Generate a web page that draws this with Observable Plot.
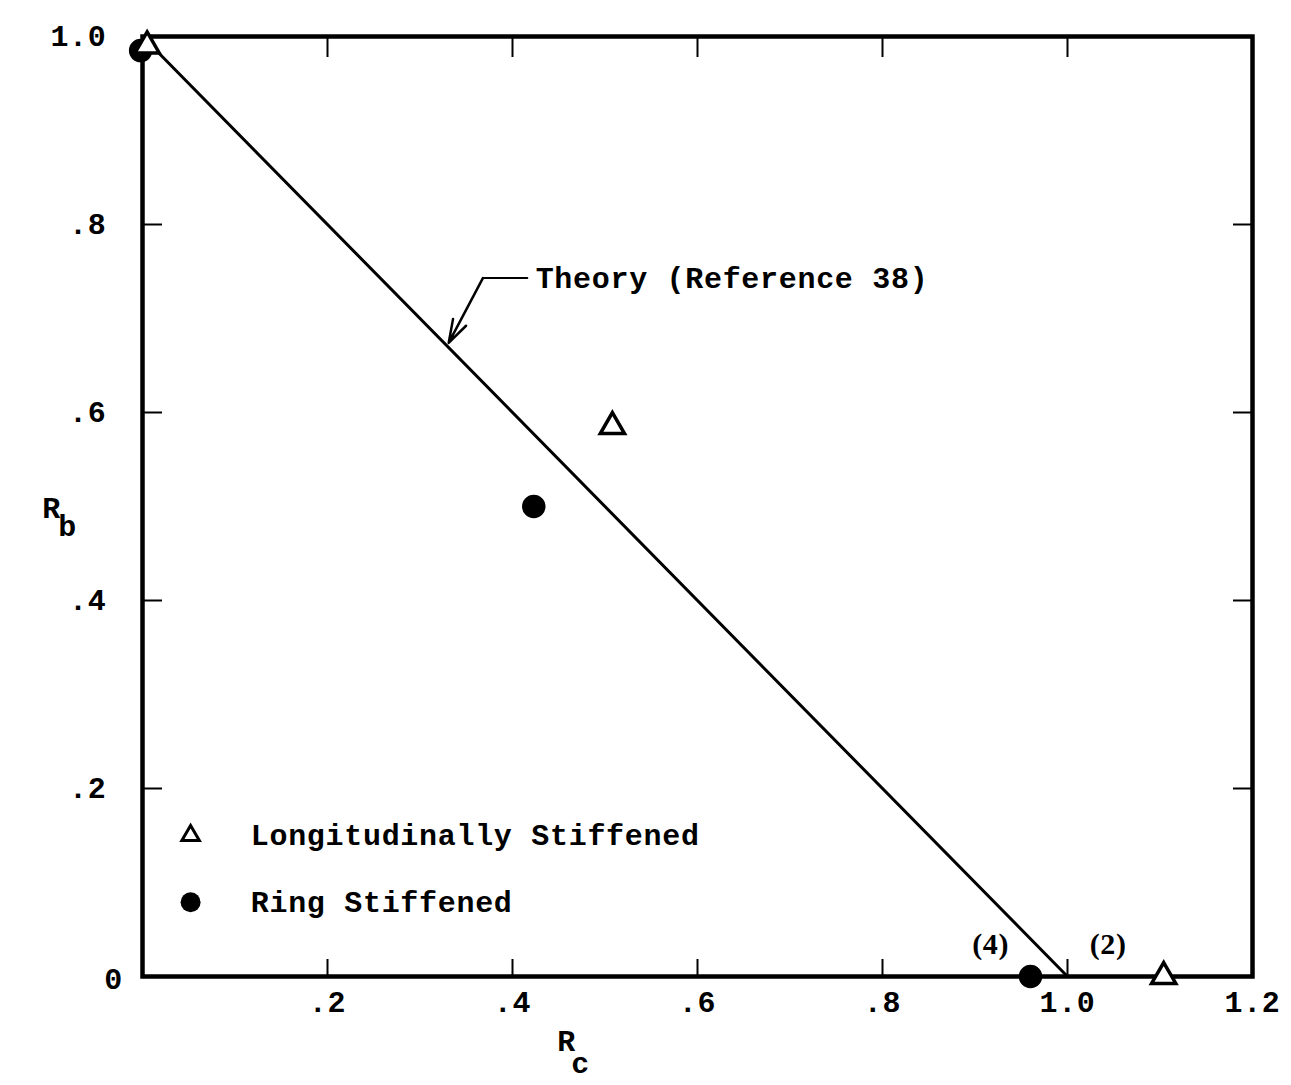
<!DOCTYPE html>
<html>
<head>
<meta charset="utf-8">
<script src="https://cdn.jsdelivr.net/npm/d3@7"></script>
<script src="https://cdn.jsdelivr.net/npm/@observablehq/plot@0.6"></script>
<style>
  html, body { margin: 0; padding: 0; background: #fff; }
  #chart { width: 1291px; height: 1085px; }
</style>
</head>
<body>
<div id="chart"></div>
<script>
// ---- data ----
const theoryRc = [0, 1.0];
const theoryRb = [1.0, 0];

// Longitudinally stiffened (open triangles)
const longRc = [0.005, 0.508, 1.104];
const longRb = [0.99, 0.585, 0.0];

// Ring stiffened (filled circles)
const ringRc = [-0.002, 0.423, 0.96];
const ringRb = [0.985, 0.50, 0.0];

// point annotations
const noteText = ["(4)", "(2)"];
const noteRc = [0.917, 1.044];
const noteRb = [0.016, 0.016];

// theory leader line: text start, elbow, arrow tip on the theory line
const leaderRc = [0.416, 0.368, 0.331];
const leaderRb = [0.743, 0.743, 0.674];
const theoryLabel = "Theory (Reference 38)";
const theoryLabelRc = 0.425;

// legend
const legendLabels = ["Longitudinally Stiffened", "Ring Stiffened"];
const legendSymbolRc = 0.052;
const legendTextRc = 0.117;
const legendRb = [0.150, 0.079];

// ticks
const xTickLabels = [0.2, 0.4, 0.6, 0.8, 1.0, 1.2];
const xTickMarks = [0.2, 0.4, 0.6, 0.8, 1.0];
const yTickLabels = [0.2, 0.4, 0.6, 0.8, 1.0];
const yTickMarks = [0.2, 0.4, 0.6, 0.8];
const originLabel = "0";
const fmt = d => d === 0 ? "0" : d >= 1 ? d.toFixed(1) : d.toFixed(1).slice(1);

// ---- tables ----
const theory = theoryRc.map((x, i) => ({x, y: theoryRb[i]}));
const longPts = longRc.map((x, i) => ({x, y: longRb[i]}));
const ringPts = ringRc.map((x, i) => ({x, y: ringRb[i]}));
const notes = noteText.map((t, i) => ({t, x: noteRc[i], y: noteRb[i]}));
const leader = leaderRc.map((x, i) => ({x, y: leaderRb[i]}));
const legend = legendLabels.map((t, i) => ({t, y: legendRb[i]}));

const font = "'Liberation Mono', 'Courier New', monospace";
const FS = 30;

const chart = Plot.plot({
  width: 1291,
  height: 1085,
  marginTop: 36,
  marginBottom: 109,
  marginLeft: 142,
  marginRight: 39,
  x: {domain: [0, 1.2]},
  y: {domain: [0, 1]},
  style: {fontFamily: font, fontWeight: "bold", fontSize: FS + "px", color: "#000", background: "#fff", overflow: "visible"},
  marks: [
    // axes: labels
    Plot.axisX(xTickLabels, {anchor: "bottom", tickSize: 0, tickPadding: 14, tickFormat: fmt, label: null, fontSize: FS}),
    Plot.axisY(yTickLabels, {anchor: "left", tickSize: 0, tickPadding: 36, tickFormat: fmt, label: null, fontSize: FS}),
    Plot.text([originLabel], {frameAnchor: "bottom-left", dx: -29, dy: 12, fontSize: FS, textAnchor: "middle"}),
    // inward ticks on all four sides
    Plot.axisX(xTickMarks, {anchor: "bottom", tickSize: -17, tickFormat: () => "", label: null, strokeWidth: 2}),
    Plot.axisX(xTickMarks, {anchor: "top", tickSize: -20, tickFormat: () => "", label: null, strokeWidth: 2}),
    Plot.axisY(yTickMarks, {anchor: "left", tickSize: -20, tickFormat: () => "", label: null, strokeWidth: 2}),
    Plot.axisY(yTickMarks, {anchor: "right", tickSize: -20, tickFormat: () => "", label: null, strokeWidth: 2}),
    // axis titles
    Plot.text(["R"], {frameAnchor: "left", dx: -91, dy: 2, fontSize: FS, textAnchor: "middle"}),
    Plot.text(["b"], {frameAnchor: "left", dx: -75, dy: 20, fontSize: FS, textAnchor: "middle"}),
    Plot.text(["R"], {frameAnchor: "bottom", dx: -131, dy: 74, fontSize: FS, textAnchor: "middle"}),
    Plot.text(["c"], {frameAnchor: "bottom", dx: -117, dy: 96, fontSize: FS, textAnchor: "middle"}),
    // frame
    Plot.frame({stroke: "#000", strokeWidth: 4.5}),
    // theory line
    Plot.line(theory, {x: "x", y: "y", stroke: "#000", strokeWidth: 3}),
    // leader
    Plot.line(leader.slice(0, 2), {x: "x", y: "y", stroke: "#000", strokeWidth: 2}),
    Plot.arrow([leader], {x1: d => d[1].x, y1: d => d[1].y, x2: d => d[2].x, y2: d => d[2].y, stroke: "#000", strokeWidth: 2.5, headLength: 16, headAngle: 35}),
    Plot.text([theoryLabel], {x: theoryLabelRc, y: leaderRb[0], textAnchor: "start", fontSize: FS}),
    // data points
    Plot.dot(ringPts, {x: "x", y: "y", r: 11, fill: "#000", stroke: "#000"}),
    Plot.dot(longPts, {x: "x", y: "y", r: 9, symbol: "triangle", fill: "#fff", stroke: "#000", strokeWidth: 3.5}),
    Plot.text(notes, {x: "x", y: "y", text: "t", fontSize: 30, dy: -17, fontFamily: "'Liberation Serif', serif"}),
    // legend
    Plot.dot(legend.slice(0, 1), {x: legendSymbolRc, y: "y", r: 6.5, symbol: "triangle", fill: "#fff", stroke: "#000", strokeWidth: 3}),
    Plot.dot(legend.slice(1), {x: legendSymbolRc, y: "y", r: 10, fill: "#000"}),
    Plot.text(legend, {x: legendTextRc, y: "y", text: "t", textAnchor: "start", fontSize: FS})
  ]
});
chart.style.letterSpacing = "0.7px";
document.getElementById("chart").appendChild(chart);
</script>
</body>
</html>
